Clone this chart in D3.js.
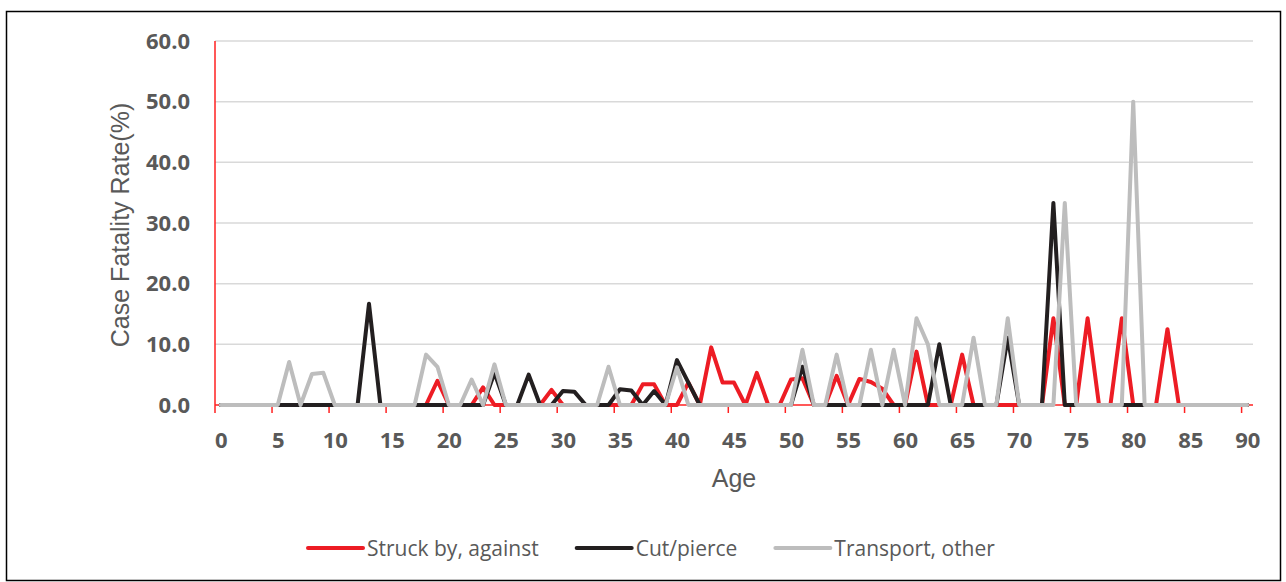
<!DOCTYPE html>
<html>
<head>
    <meta charset="utf-8">
    <title>Case Fatality Rate by Age</title>
    <script src="https://d3js.org/d3.v7.min.js"></script>
    <style>
        body {
            margin: 0;
            background: #fff;
        }
        svg {
            display: block;
        }
        .tick-label {
            font-family: "Open Sans", sans-serif;
            font-weight: 700;
            font-size: 22px;
            fill: #595959;
        }
        .axis-title {
            font-family: "Liberation Sans", Arial, sans-serif;
            font-size: 25px;
            fill: #595959;
        }
        .legend-text {
            font-family: "Open Sans", sans-serif;
            font-size: 21px;
            fill: #595959;
        }
    </style>
</head>
<body>
    <svg id="chart" width="1286" height="582"></svg>

    <script>
        // ages 0..90
        const ages = d3.range(0, 91);

        const struck = [
            0, 0, 0, 0, 0, 0, 0, 0, 0, 0,            // 0-9
            0, 0, 0, 0, 0, 0, 0, 0, 0, 4.0,          // 10-19
            0, 0, 0, 2.9, 0, 0, 0, 0, 0, 2.5,        // 20-29
            0, 0, 0, 0, 0, 0, 0, 3.4, 3.4, 0,        // 30-39
            0, 3.7, 0, 9.5, 3.7, 3.7, 0, 5.3, 0, 0,  // 40-49
            4.2, 4.4, 0, 0, 4.8, 0, 4.3, 3.8, 2.7, 0,// 50-59
            0, 8.8, 0, 0, 0, 8.3, 0, 0, 0, 0,        // 60-69
            0, 0, 0, 14.3, 0, 0, 14.3, 0, 0, 14.3,   // 70-79
            0, 0, 0, 12.5, 0, 0, 0, 0, 0, 0,         // 80-89
            0                                        // 90
        ];

        const cutPierce = [
            0, 0, 0, 0, 0, 0, 0, 0, 0, 0,
            0, 0, 0, 16.7, 0, 0, 0, 0, 0, 0,
            0, 0, 0, 0, 5.3, 0, 0, 5.0, 0, 0,
            2.3, 2.2, 0, 0, 0, 2.6, 2.4, 0, 2.3, 0,
            7.4, 3.7, 0, 0, 0, 0, 0, 0, 0, 0,
            0, 6.3, 0, 0, 0, 0, 0, 0, 0, 0,
            0, 0, 0, 10.0, 0, 0, 0, 0, 0, 11.1,
            0, 0, 0, 33.3, 0, 0, 0, 0, 0, 0,
            0, 0, 0, 0, 0, 0, 0, 0, 0, 0,
            0
        ];

        const transport = [
            0, 0, 0, 0, 0, 0, 7.1, 0, 5.1, 5.3,
            0, 0, 0, 0, 0, 0, 0, 0, 8.3, 6.3,
            0, 0, 4.2, 0, 6.7, 0, 0, 0, 0, 0,
            0, 0, 0, 0, 6.3, 0, 0, 0, 0, 0,
            6.2, 0, 0, 0, 0, 0, 0, 0, 0, 0,
            0, 9.1, 0, 0, 8.3, 0, 0, 9.1, 0, 9.1,
            0, 14.3, 10.0, 0, 0, 0, 11.1, 0, 0, 14.3,
            0, 0, 0, 0, 33.3, 0, 0, 0, 0, 0,
            50.0, 0, 0, 0, 0, 0, 0, 0, 0, 0,
            0
        ];

        const seriesNames = ["Struck by, against", "Cut/pierce", "Transport, other"];
        const seriesColors = ["#ed1c24", "#231f20", "#bdbdbd"];
        const seriesValues = [struck, cutPierce, transport];

        const yTicks = [0, 10, 20, 30, 40, 50, 60];
        const xTickLabels = ages.filter(a => a % 5 === 0);

        const svg = d3.select("#chart");

        // outer frame
        svg.append("rect")
            .attr("x", 6.5).attr("y", 11.5)
            .attr("width", 1274).attr("height", 569)
            .attr("fill", "none")
            .attr("stroke", "#000")
            .attr("stroke-width", 1.5);

        const plotLeft = 215, plotRight = 1253, plotTop = 41, plotBottom = 405;

        const x = d3.scaleBand().domain(ages).range([plotLeft, plotRight]).padding(0);
        const xc = a => x(a) + x.bandwidth() / 2;
        const y = d3.scaleLinear().domain([0, 60]).range([plotBottom, plotTop]);

        // gridlines
        svg.append("g")
            .selectAll("line")
            .data(yTicks.filter(d => d > 0))
            .join("line")
            .attr("x1", plotLeft).attr("x2", plotRight)
            .attr("y1", d => y(d)).attr("y2", d => y(d))
            .attr("stroke", "#d9d9d9")
            .attr("stroke-width", 1.5);

        // y axis labels
        const yAxis = svg.append("g")
            .attr("transform", `translate(${plotLeft},0)`)
            .call(d3.axisLeft(y).tickValues(yTicks).tickFormat(d3.format(".1f")).tickSize(0).tickPadding(25));
        yAxis.select(".domain").remove();
        yAxis.selectAll("text").attr("class", "tick-label").attr("fill", null);

        // x axis labels
        const xAxis = svg.append("g")
            .attr("transform", `translate(0,${plotBottom})`)
            .call(d3.axisBottom(d3.scaleLinear().domain([0, 90]).range([xc(0), xc(90)]))
                .tickValues(xTickLabels).tickSize(0).tickPadding(27));
        xAxis.select(".domain").remove();
        xAxis.selectAll("text").attr("class", "tick-label").attr("fill", null);

        // tick marks between categories
        svg.append("g")
            .selectAll("line")
            .data(xTickLabels)
            .join("line")
            .attr("x1", d => x(d)).attr("x2", d => x(d))
            .attr("y1", plotBottom).attr("y2", plotBottom + 8)
            .attr("stroke", "#ff2020")
            .attr("stroke-width", 1.5);

        // axis lines
        svg.append("line")
            .attr("x1", plotLeft).attr("x2", plotRight)
            .attr("y1", plotBottom).attr("y2", plotBottom)
            .attr("stroke", "#ff2020").attr("stroke-width", 1.5);
        svg.append("line")
            .attr("x1", plotLeft).attr("x2", plotLeft)
            .attr("y1", plotTop).attr("y2", plotBottom)
            .attr("stroke", "#ff2020").attr("stroke-width", 1.5);

        // series lines
        const line = d3.line()
            .x((d, i) => xc(ages[i]))
            .y(d => y(d));

        seriesValues.forEach((vals, i) => {
            svg.append("path")
                .datum(vals)
                .attr("d", line)
                .attr("fill", "none")
                .attr("stroke", seriesColors[i])
                .attr("stroke-width", 4)
                .attr("stroke-linejoin", "round")
                .attr("stroke-linecap", "round");
        });

        // axis titles
        svg.append("text")
            .attr("class", "axis-title")
            .attr("x", 734).attr("y", 487)
            .attr("text-anchor", "middle")
            .text("Age");

        svg.append("text")
            .attr("class", "axis-title")
            .attr("transform", `translate(129,${(plotTop + plotBottom) / 2 + 2}) rotate(-90)`)
            .attr("text-anchor", "middle")
            .text("Case Fatality Rate(%)");

        // legend
        const legend = svg.append("g");
        let lx = 308;
        seriesNames.forEach((name, i) => {
            legend.append("line")
                .attr("x1", lx).attr("x2", lx + 55)
                .attr("y1", 548).attr("y2", 548)
                .attr("stroke", seriesColors[i])
                .attr("stroke-width", 4)
                .attr("stroke-linecap", "round");
            const t = legend.append("text")
                .attr("class", "legend-text")
                .attr("x", lx + 59).attr("y", 556)
                .text(name);
            lx += 59 + t.node().getComputedTextLength() + 38;
        });
    </script>
</body>
</html>
